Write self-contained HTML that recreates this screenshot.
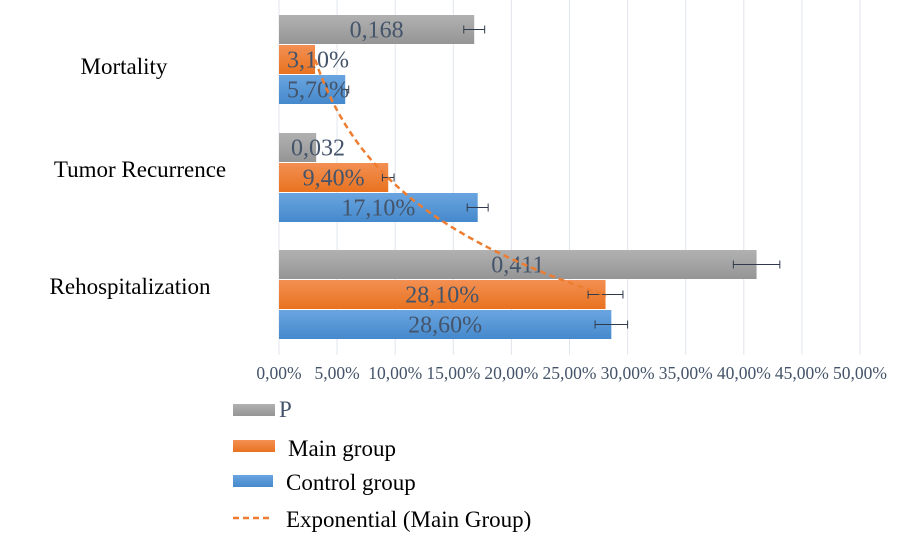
<!DOCTYPE html>
<html><head><meta charset="utf-8"><style>
body{margin:0;background:#fff;}
svg text{font-family:"Liberation Serif",serif;}
</style></head><body>
<svg id="chart" width="900" height="538" viewBox="0 0 900 538">
<defs>
<linearGradient id="gG" x1="0" y1="0" x2="0" y2="1"><stop offset="0" stop-color="#b1b1b1"/><stop offset="1" stop-color="#959595"/></linearGradient>
<linearGradient id="gO" x1="0" y1="0" x2="0" y2="1"><stop offset="0" stop-color="#f39053"/><stop offset="1" stop-color="#e8721f"/></linearGradient>
<linearGradient id="gB" x1="0" y1="0" x2="0" y2="1"><stop offset="0" stop-color="#6aa5e0"/><stop offset="1" stop-color="#4589cc"/></linearGradient>
</defs>
<g id="grid"></g><g id="bars"></g><g id="labels"></g>
<g>
<rect x="233" y="404" width="42" height="12" fill="url(#gG)"/>
<text x="279" y="417" font-size="23" fill="#44546a">P</text>
<rect x="233" y="440" width="42" height="12" fill="url(#gO)"/>
<text x="288" y="456" font-size="23" fill="#000">Main group</text>
<rect x="233" y="475" width="40" height="12" fill="url(#gB)"/>
<text x="286" y="490" font-size="23" fill="#000">Control group</text>
<line x1="233" y1="518" x2="273" y2="518" stroke="#ed7d31" stroke-width="2.5" stroke-dasharray="6,4"/>
<text x="286" y="527" font-size="23" fill="#000">Exponential (Main Group)</text>
</g>
</svg>
<script>
const categories=["Mortality","Tumor Recurrence","Rehospitalization"];
const pValues=[16.8,3.2,41.1];
const pLabels=["0,168","0,032","0,411"];
const pErr=[0.9,0,2.0];
const mainValues=[3.1,9.4,28.1];
const mainLabels=["3,10%","9,40%","28,10%"];
const mainErr=[0,0.5,1.5];
const controlValues=[5.7,17.1,28.6];
const controlLabels=["5,70%","17,10%","28,60%"];
const controlErr=[0.3,0.9,1.4];
const ticks=[0,5,10,15,20,25,30,35,40,45,50];
const tickLabels=["0,00%","5,00%","10,00%","15,00%","20,00%","25,00%","30,00%","35,00%","40,00%","45,00%","50,00%"];

const NS="http://www.w3.org/2000/svg";
const X0=279,X1=860;
const xs=v=>X0+(X1-X0)*v/50;
const groupTop=[15,133,250], barH=29;
const catLabelPos=[[124,74],[140,177],[130,294]];
function mk(tag,attrs,parent){const e=document.createElementNS(NS,tag);for(const k in attrs)e.setAttribute(k,attrs[k]);parent.appendChild(e);return e;}
const grid=document.getElementById('grid'),bars=document.getElementById('bars'),labels=document.getElementById('labels');
ticks.forEach((t,i)=>{
  const l=mk('line',{x1:xs(t),x2:xs(t),y1:0,y2:355,stroke:'#e1e5ec','stroke-width':1},grid);
  
  
  const tx=mk('text',{x:xs(t),y:379,'font-size':17.5,fill:'#44546a','text-anchor':'middle'},labels);
  tx.textContent=tickLabels[i];
  
  
});
const series=[[pValues,pLabels,pErr,'url(#gG)','p'],[mainValues,mainLabels,mainErr,'url(#gO)','main'],[controlValues,controlLabels,controlErr,'url(#gB)','control']];
categories.forEach((c,ci)=>{
  const ct=mk('text',{x:catLabelPos[ci][0],y:catLabelPos[ci][1],'font-size':23,fill:'#000','text-anchor':'middle'},labels);
  ct.textContent=c;
  
  
  series.forEach((s,si)=>{
    const y=groupTop[ci]+si*barH+si;
    const v=s[0][ci];
    const r=mk('rect',{x:X0,y:y,width:xs(v)-X0,height:barH,fill:s[3]},bars);
    
    
    const e=s[2][ci];
    if(e>0){
      const cy=y+barH/2;
      const g=mk('g',{stroke:'#2f3b4c','stroke-width':1},bars);
      
      
      mk('line',{x1:xs(v-e),x2:xs(v+e),y1:cy,y2:cy},g);
      mk('line',{x1:xs(v-e),x2:xs(v-e),y1:cy-4,y2:cy+4},g);
      mk('line',{x1:xs(v+e),x2:xs(v+e),y1:cy-4,y2:cy+4},g);
    }
    const t=mk('text',{y:y+barH/2+8,'font-size':24,fill:'#44546a','text-anchor':'middle'},labels);
    t.textContent=s[1][ci];
    const half=s[1][ci].length*6;
    t.setAttribute('x',Math.max((X0+xs(v))/2,X0+9+half));
    
    
  });
});
const n=mainValues.length;let sx=0,sy=0,sxy=0,sxx=0;
mainValues.forEach((v,i)=>{const xi=i+1,yi=Math.log(v);sx+=xi;sy+=yi;sxy+=xi*yi;sxx+=xi*xi;});
const b=(n*sxy-sx*sy)/(n*sxx-sx*sx),a=Math.exp((sy-b*sx)/n);
const cyOf=i=>groupTop[0]+barH*1.5+1+(i-1)*(groupTop[1]-groupTop[0]);
let d='';
for(let k=0;k<=40;k++){const t=1+2*k/40;d+=(k?'L':'M')+xs(a*Math.exp(b*t)).toFixed(1)+','+cyOf(t).toFixed(1);}
const tr=mk('path',{d:d,fill:'none',stroke:'#ed7d31','stroke-width':2.5,'stroke-dasharray':'6,4'},labels);


</script>
</body></html>
